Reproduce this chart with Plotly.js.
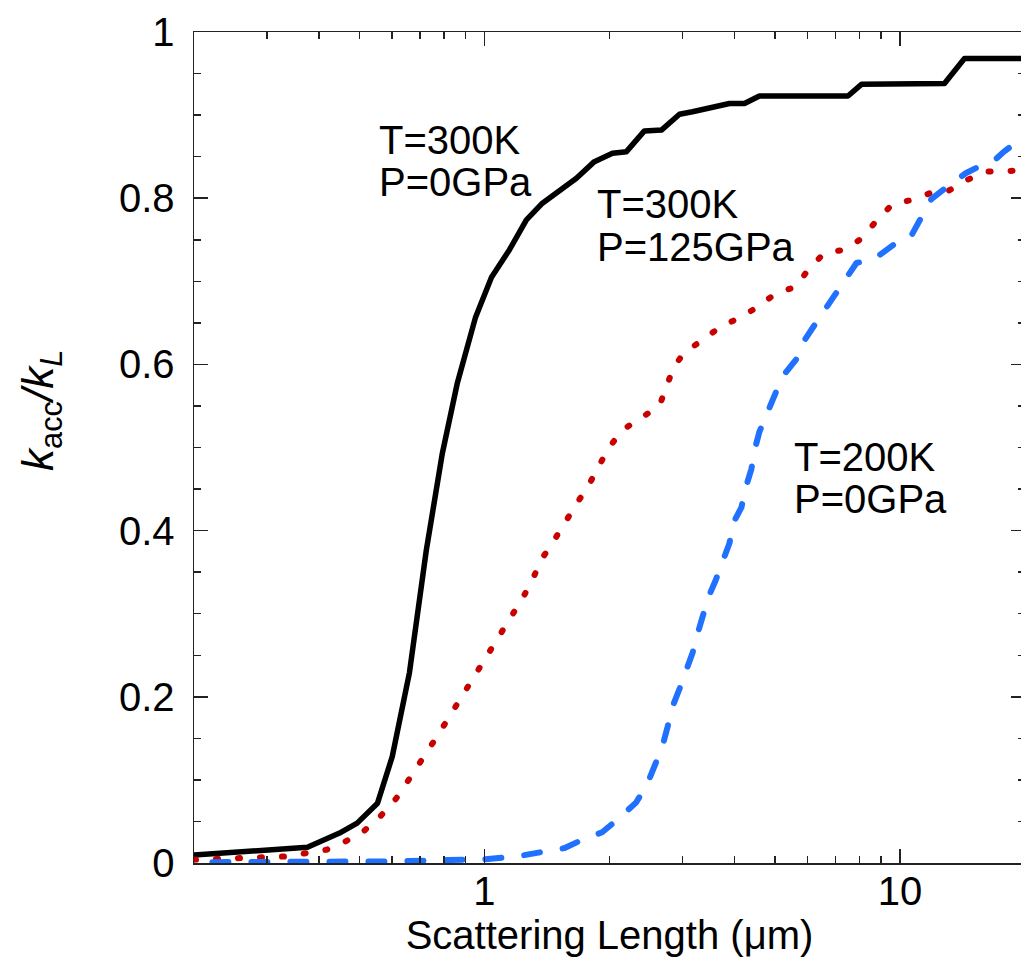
<!DOCTYPE html>
<html>
<head>
<meta charset="utf-8">
<script src="https://cdn.plot.ly/plotly-3.0.1.min.js"></script>
<style>
html, body { margin: 0; padding: 0; overflow: hidden; background: #fff; }
#chart path.js-line { stroke-linecap: round !important; stroke-linejoin: round !important; }
</style>
</head>
<body>
<div id="chart"></div>
<script>
// Scattering length (µm) and normalised accumulated conductivity k_acc/k_L
const blackX = [0.2, 0.375, 0.448, 0.494, 0.553, 0.60, 0.66, 0.725, 0.792, 0.861, 0.951, 1.04, 1.149, 1.262, 1.379, 1.515, 1.665, 1.839, 2.033, 2.197, 2.427, 2.667, 2.947, 3.167, 3.538, 3.888, 4.225, 4.59, 7.5, 8.08, 12.8, 14.3, 20];
const blackY = [0.0096, 0.019, 0.036, 0.048, 0.072, 0.128, 0.229, 0.377, 0.493, 0.578, 0.656, 0.705, 0.738, 0.774, 0.794, 0.81, 0.824, 0.844, 0.854, 0.856, 0.881, 0.882, 0.901, 0.904, 0.91, 0.914, 0.914, 0.923, 0.923, 0.937, 0.938, 0.968, 0.968];

const redX = [0.2, 0.243, 0.304, 0.339, 0.373, 0.417, 0.455, 0.506, 0.559, 0.614, 0.657, 0.705, 0.75, 0.80, 0.851, 0.905, 0.967, 1.028, 1.099, 1.17, 1.24, 1.31, 1.379, 1.474, 1.558, 1.665, 1.779, 1.891, 1.988, 2.148, 2.361, 2.637, 2.742, 2.85, 3.013, 3.347, 3.72, 4.109, 4.54, 5.045, 5.605, 6.057, 6.58, 7.35, 8.12, 8.78, 9.65, 10.78, 11.8, 13.1, 14.5, 16.2, 17.9, 20];
const redY = [0.004, 0.005, 0.007, 0.008, 0.012, 0.016, 0.024, 0.036, 0.055, 0.078, 0.10, 0.122, 0.144, 0.166, 0.188, 0.21, 0.233, 0.254, 0.277, 0.30, 0.32, 0.343, 0.367, 0.389, 0.41, 0.432, 0.454, 0.477, 0.499, 0.521, 0.534, 0.55, 0.573, 0.596, 0.613, 0.629, 0.646, 0.656, 0.669, 0.686, 0.693, 0.716, 0.734, 0.738, 0.752, 0.773, 0.794, 0.798, 0.806, 0.809, 0.822, 0.832, 0.832, 0.835];

const blueX = [0.2215, 0.4, 0.6, 0.9, 1.0, 1.2, 1.4, 1.56, 1.72, 1.92, 2.11, 2.32, 2.47, 2.59, 2.68, 2.76, 2.83, 2.95, 3.06, 3.17, 3.25, 3.35, 3.46, 3.60, 3.74, 3.89, 3.95, 4.155, 4.25, 4.39, 4.47, 4.59, 4.77, 5.02, 5.21, 5.67, 5.89, 6.30, 6.77, 7.23, 7.86, 8.68, 9.65, 10.6, 11.2, 11.9, 13.0, 14.4, 15.9, 17.1, 17.8, 20];
const blueY = [0.001, 0.001, 0.002, 0.004, 0.0045, 0.008, 0.013, 0.018, 0.028, 0.037, 0.054, 0.073, 0.096, 0.12, 0.14, 0.164, 0.187, 0.21, 0.23, 0.253, 0.274, 0.296, 0.32, 0.34, 0.362, 0.385, 0.407, 0.428, 0.451, 0.474, 0.497, 0.519, 0.539, 0.566, 0.585, 0.608, 0.629, 0.651, 0.674, 0.698, 0.722, 0.727, 0.744, 0.753, 0.776, 0.799, 0.814, 0.83, 0.841, 0.848, 0.856, 0.875];

const seriesLabels = [
  ["T=300K", "P=0GPa"],
  ["T=300K", "P=125GPa"],
  ["T=200K", "P=0GPa"]
];
const xTitle = "Scattering Length (\u03bcm)";
const yTitle = "<i>k</i><sub>acc</sub><i>/k</i><sub><i>L</i></sub>";

const FONT = "Liberation Sans, Arial, Helvetica, sans-serif";
const L = 194, T = 32, PW = 831, PH = 831;
const px = v => (v - L) / PW;
const py = v => (T + PH - v) / PH;

const traces = [
  {x: blackX, y: blackY, mode: 'lines', line: {color: '#000000', width: 5.5}, hoverinfo: 'skip', name: seriesLabels[0].join(' ')},
  {x: redX, y: redY, mode: 'lines', line: {color: '#c80000', width: 6, dash: '2px,20px'}, hoverinfo: 'skip', name: seriesLabels[1].join(' ')},
  {x: blueX, y: blueY, mode: 'lines', line: {color: '#2171ff', width: 6, dash: '16px,23px'}, hoverinfo: 'skip', name: seriesLabels[2].join(' ')}
];

const labelPos = [[377, 140, 182], [595, 204, 247], [792, 457, 499]];
const annotations = [];
seriesLabels.forEach((lines, i) => {
  lines.forEach((t, j) => {
    annotations.push({
      text: t, xref: 'paper', yref: 'paper',
      x: px(labelPos[i][0]), y: py(labelPos[i][j + 1]),
      xanchor: 'left', yanchor: 'middle', showarrow: false,
      font: {family: FONT, size: 40, color: '#000'}
    });
  });
});
annotations.push({
  text: yTitle, xref: 'paper', yref: 'paper',
  x: px(41), y: py(411), xanchor: 'center', yanchor: 'middle',
  textangle: -90, showarrow: false,
  font: {family: FONT, size: 44, color: '#000'}
});

const axisCommon = {
  showgrid: false, zeroline: false, showline: true, linecolor: '#222', linewidth: 1.5,
  ticks: 'inside', ticklen: 14, tickwidth: 1.5, tickcolor: '#222', mirror: 'ticks',
  tickfont: {family: FONT, size: 40, color: '#000'}
};

const layout = {
  width: 1025, height: 964,
  margin: {l: L, r: 0, t: T, b: 964 - T - PH},
  paper_bgcolor: '#fff', plot_bgcolor: '#fff',
  showlegend: false,
  font: {family: FONT, color: '#000'},
  xaxis: Object.assign({}, axisCommon, {
    type: 'log', range: [Math.log10(0.2), Math.log10(20)],
    dtick: 1, ticklabelstandoff: -8,
    minor: {dtick: 'D1', ticks: 'inside', ticklen: 7, tickwidth: 1.5, tickcolor: '#222', showgrid: false},
    title: {text: xTitle, font: {family: FONT, size: 40, color: '#000'}, standoff: 8}
  }),
  yaxis: Object.assign({}, axisCommon, {
    range: [0, 1], dtick: 0.2, ticklabelstandoff: 10,
    minor: {dtick: 0.05, ticks: 'inside', ticklen: 7, tickwidth: 1.5, tickcolor: '#222', showgrid: false}
  }),
  annotations: annotations
};

Plotly.newPlot('chart', traces, layout, {displayModeBar: false, staticPlot: true});
</script>
</body>
</html>
